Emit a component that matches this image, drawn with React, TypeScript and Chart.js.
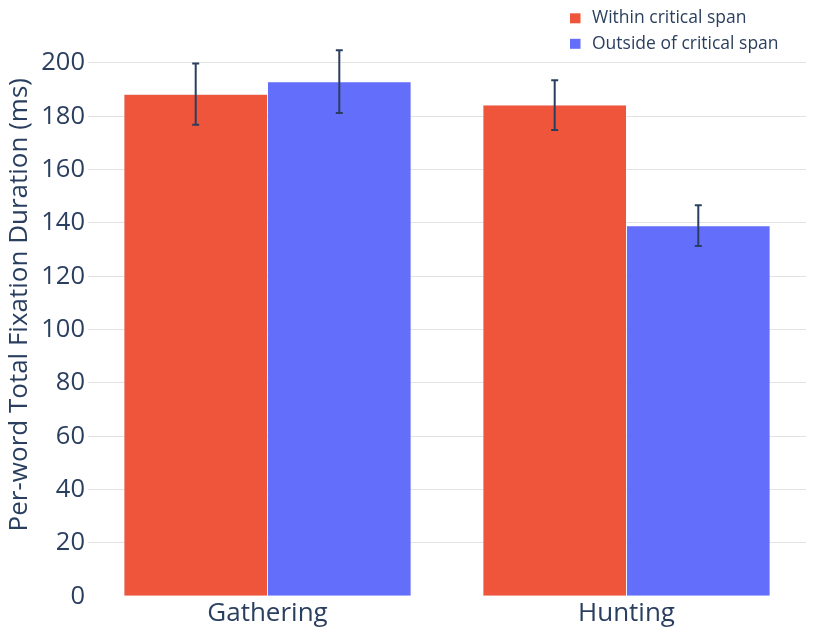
import React, { useEffect, useRef } from 'react';
import { Chart, registerables } from 'chart.js';

Chart.register(...registerables);

const categories = ['Gathering', 'Hunting'];
const seriesNames = ['Within critical span', 'Outside of critical span'];
const withinValues = [188.3, 184.2];
const outsideValues = [193.0, 139.0];
const withinErrors = [11.5, 9.3];
const outsideErrors = [11.8, 7.6];
const yTicks = [0, 20, 40, 60, 80, 100, 120, 140, 160, 180, 200];

const TEXT = '#2a3f5f';
const RED = '#EF553B';
const BLUE = '#636EFA';

const errorBarPlugin = {
  id: 'errorBars',
  afterDatasetsDraw(chart: any) {
    const { ctx } = chart;
    const yScale = chart.scales.y;
    chart.data.datasets.forEach((ds: any, di: number) => {
      const meta = chart.getDatasetMeta(di);
      const errs: number[] = ds.errors || [];
      meta.data.forEach((bar: any, i: number) => {
        const v = ds.data[i];
        const e = errs[i];
        if (e == null) return;
        const yTop = yScale.getPixelForValue(v + e);
        const yBot = yScale.getPixelForValue(v - e);
        const x = bar.x;
        const w = 3.5;
        ctx.save();
        ctx.strokeStyle = TEXT;
        ctx.lineWidth = 2;
        ctx.beginPath();
        ctx.moveTo(x, yTop);
        ctx.lineTo(x, yBot);
        ctx.moveTo(x - w, yTop);
        ctx.lineTo(x + w, yTop);
        ctx.moveTo(x - w, yBot);
        ctx.lineTo(x + w, yBot);
        ctx.stroke();
        ctx.restore();
      });
    });
  },
};

const legendPlugin = {
  id: 'sideLegend',
  afterDraw(chart: any) {
    const { ctx } = chart;
    const colors = [RED, BLUE];
    ctx.save();
    ctx.font = '17.5px "Open Sans"';
    ctx.textBaseline = 'middle';
    ctx.textAlign = 'left';
    seriesNames.forEach((name, i) => {
      const cy = 18.3 + i * 25.5;
      ctx.fillStyle = colors[i];
      ctx.fillRect(570, cy - 5, 10.5, 10);
      ctx.fillStyle = TEXT;
      ctx.fillText(name, 592, cy);
    });
    ctx.restore();
  },
};

const App: React.FC = () => {
  const canvasRef = useRef<HTMLCanvasElement | null>(null);

  useEffect(() => {
    document.body.style.margin = '0';
    if (!canvasRef.current) return;
    const ctx = canvasRef.current.getContext('2d');
    if (!ctx) return;

    const chart = new Chart(ctx, {
      type: 'bar',
      data: {
        labels: categories,
        datasets: [
          {
            label: seriesNames[0],
            data: withinValues,
            errors: withinErrors,
            backgroundColor: RED,
            borderColor: '#E5ECF6',
            borderWidth: 0.5,
            categoryPercentage: 0.8,
            barPercentage: 1.0,
          } as any,
          {
            label: seriesNames[1],
            data: outsideValues,
            errors: outsideErrors,
            backgroundColor: BLUE,
            borderColor: '#E5ECF6',
            borderWidth: 0.5,
            categoryPercentage: 0.8,
            barPercentage: 1.0,
          } as any,
        ],
      },
      options: {
        responsive: false,
        animation: false,
        layout: { padding: { left: 0, right: 24, top: 13.1, bottom: 0 } },
        plugins: {
          legend: { display: false },
          tooltip: { enabled: false },
        },
        scales: {
          x: {
            border: { display: false },
            grid: { display: false, drawTicks: false },
            ticks: {
              color: TEXT,
              padding: 2,
              font: { family: 'Open Sans', size: 26 },
            },
            afterFit: (scale: any) => {
              scale.height = 41.7;
              scale.paddingLeft = 0;
              scale.paddingRight = 0;
            },
          },
          y: {
            min: 0,
            max: 218.7,
            border: { display: false },
            grid: {
              drawTicks: false,
              color: (c: any) => (c.tick && c.tick.value === 0 ? 'rgba(0,0,0,0)' : '#E2E2E2'),
              lineWidth: 1,
            },
            afterBuildTicks: (scale: any) => {
              scale.ticks = yTicks.map((v) => ({ value: v }));
            },
            ticks: {
              color: TEXT,
              padding: 3,
              font: { family: 'Open Sans', size: 25.5 },
            },
            title: {
              display: true,
              text: 'Per-word Total Fixation Duration (ms)',
              color: TEXT,
              font: { family: 'Open Sans', size: 26 },
              padding: { top: 4, bottom: 0 },
            },
            afterFit: (scale: any) => {
              scale.width = 88;
              scale.paddingTop = 0;
              scale.paddingBottom = 0;
            },
          },
        },
      },
      plugins: [errorBarPlugin, legendPlugin],
    });

    return () => {
      chart.destroy();
    };
  }, []);

  return (
    <div style={{ width: 830, height: 638 }}>
      <canvas ref={canvasRef} width={830} height={638}></canvas>
    </div>
  );
};

export default App;
